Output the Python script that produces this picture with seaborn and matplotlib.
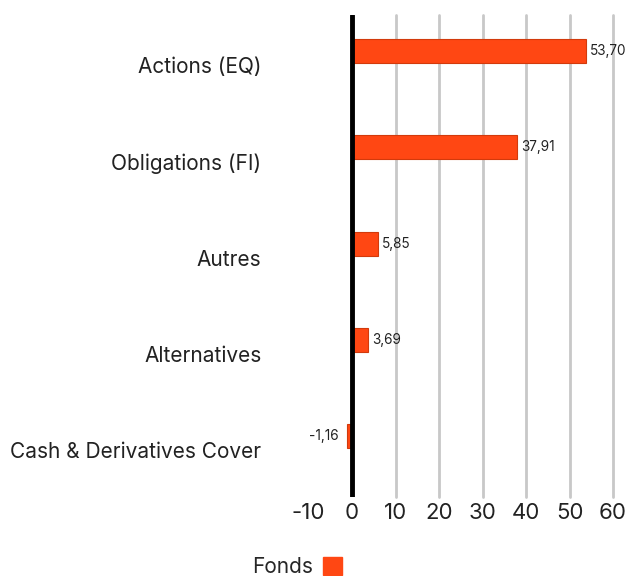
import matplotlib
matplotlib.use('Agg')
import matplotlib.pyplot as plt
import matplotlib.transforms as mtransforms
import seaborn as sns
import pandas as pd
from matplotlib.patches import Patch

# Données
categories = ['Actions (EQ)', 'Obligations (FI)', 'Autres', 'Alternatives',
              'Cash & Derivatives Cover']
values = [53.70, 37.91, 5.85, 3.69, -1.16]
series_name = 'Fonds'
x_ticks = [-10, 0, 10, 20, 30, 40, 50, 60]

df = pd.DataFrame({'categorie': categories, 'valeur': values})

sns.set_style('white')
plt.rcParams['font.family'] = ['Inter', 'DejaVu Sans']

fig = plt.figure(figsize=(6.3, 5.76), dpi=100)
ax = fig.add_axes([0.490, 0.137, 0.483, 0.837])

orange = '#FF4713'
sns.barplot(data=df, x='valeur', y='categorie', orient='h', color=orange,
            width=0.25, edgecolor='#D23A0C', linewidth=0.8, saturation=1, ax=ax)

ax.set_xlim(-10, 60)
ax.set_ylim(4.63, -0.375)
ax.set_xticks(x_ticks)
ax.set_xticklabels([str(t) for t in x_ticks], fontsize=16, color='#222222')
ax.tick_params(axis='x', length=0, pad=4)
ax.tick_params(axis='y', length=0, pad=34, labelsize=15, labelcolor='#222222')

# libellés de catégories légèrement sous les barres
offset = mtransforms.ScaledTranslation(0, -0.14, fig.dpi_scale_trans)
for lab in ax.get_yticklabels():
    lab.set_transform(lab.get_transform() + offset)

# Grille verticale
for t in x_ticks[2:]:
    ax.axvline(t, color='#c8c8c8', linewidth=2, zorder=0, clip_on=False)
ax.axvline(0, color='black', linewidth=3.5, zorder=3)

for s in ax.spines.values():
    s.set_visible(False)
ax.set_xlabel('')
ax.set_ylabel('')

# Étiquettes de valeurs
for i, v in enumerate(values):
    txt = f'{v:.2f}'.replace('.', ',')
    if v >= 0:
        ax.text(v + 1.0, i, txt, va='center', ha='left', fontsize=9.8, color='#222222')
    else:
        ax.text(v - 1.9, i, txt, va='center', ha='right', fontsize=9.8, color='#222222')

# Légende
handle = Patch(facecolor=orange, edgecolor=orange)
fig.legend([handle], [series_name], loc='center', bbox_to_anchor=(0.472, 0.016),
           frameon=False, markerfirst=False, fontsize=15, handlelength=0.95,
           handleheight=0.95, handletextpad=0.45, borderpad=0)

fig.savefig('out.png', dpi=100)
